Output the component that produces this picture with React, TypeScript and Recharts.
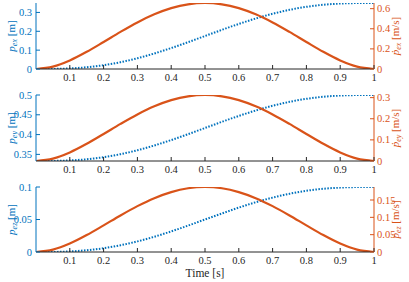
import React from 'react';
import { LineChart, Line, XAxis, YAxis } from 'recharts';

const TIME = [0, 0.05, 0.1, 0.15, 0.2, 0.25, 0.3, 0.35, 0.4, 0.45, 0.5, 0.55, 0.6, 0.65, 0.7, 0.75, 0.8, 0.85, 0.9, 0.95, 1];
const X_TICKS = [0.1, 0.2, 0.3, 0.4, 0.5, 0.6, 0.7, 0.8, 0.9, 1];

const PX = [0, 0.0004, 0.003, 0.0093, 0.0203, 0.0362, 0.0571, 0.0823, 0.1111, 0.1424, 0.175, 0.2076, 0.2389, 0.2677, 0.2929, 0.3138, 0.3297, 0.3407, 0.347, 0.3496, 0.35];
const VX = [0, 0.0237, 0.0851, 0.1707, 0.2688, 0.3691, 0.4631, 0.5434, 0.6048, 0.6432, 0.6563, 0.6432, 0.6048, 0.5434, 0.4631, 0.3691, 0.2688, 0.1707, 0.0851, 0.0237, 0];
const PY = [0.3333, 0.3335, 0.3347, 0.3377, 0.343, 0.3506, 0.3605, 0.3725, 0.3862, 0.4011, 0.4167, 0.4322, 0.4471, 0.4608, 0.4728, 0.4827, 0.4903, 0.4956, 0.4986, 0.4998, 0.5];
const VY = [0, 0.0113, 0.0405, 0.0813, 0.128, 0.1758, 0.2205, 0.2588, 0.288, 0.3063, 0.3125, 0.3063, 0.288, 0.2588, 0.2205, 0.1758, 0.128, 0.0813, 0.0405, 0.0113, 0];
const PZ = [0, 0.0001, 0.0009, 0.0027, 0.0058, 0.0104, 0.0163, 0.0235, 0.0317, 0.0407, 0.05, 0.0593, 0.0683, 0.0765, 0.0837, 0.0896, 0.0942, 0.0973, 0.0991, 0.0999, 0.1];
const VZ = [0, 0.0068, 0.0243, 0.0488, 0.0768, 0.1055, 0.1323, 0.1553, 0.1728, 0.1838, 0.1875, 0.1838, 0.1728, 0.1553, 0.1323, 0.1055, 0.0768, 0.0488, 0.0243, 0.0068, 0];

const PX_DOMAIN = [0, 0.35];
const PX_TICKS = [0, 0.1, 0.2, 0.3];
const VX_DOMAIN = [0, 0.6563];
const VX_TICKS = [0, 0.2, 0.4, 0.6];
const PY_DOMAIN = [0.3333, 0.5];
const PY_TICKS = [0.35, 0.4, 0.45, 0.5];
const VY_DOMAIN = [0, 0.3125];
const VY_TICKS = [0, 0.1, 0.2, 0.3];
const PZ_DOMAIN = [0, 0.1];
const PZ_TICKS = [0, 0.05, 0.1];
const VZ_DOMAIN = [0, 0.1875];
const VZ_TICKS = [0, 0.05, 0.1, 0.15];

const BLUE = '#0072BD';
const ORANGE = '#D95319';
const DARK = '#262626';
const FONT = "'Liberation Serif', 'DejaVu Serif', serif";
const TXT = { fontFamily: FONT };

const build = (p: number[], v: number[]) => TIME.map((t, i) => ({ t, p: p[i], v: v[i] }));

const fmt = (v: number) => String(v);

const BottomTick = (props: any) => {
  const { x, y, payload } = props;
  return (
    <g>
      <line x1={x} y1={y} x2={x} y2={y - 4} stroke={DARK} strokeWidth={1} />
      <text x={x} y={y + 12} textAnchor="middle" fontSize={10.5} fill={DARK} fontFamily={FONT} style={TXT}>
        {fmt(payload.value)}
      </text>
    </g>
  );
};

const TopTick = (props: any) => {
  const { x, y } = props;
  return <line x1={x} y1={y} x2={x} y2={y + 4} stroke={DARK} strokeWidth={1} />;
};

const LeftTick = (props: any) => {
  const { x, y, payload } = props;
  return (
    <g>
      <line x1={x} y1={y} x2={x + 4} y2={y} stroke={BLUE} strokeWidth={1} />
      <text x={x - 4} y={y + 3.5} textAnchor="end" fontSize={10.5} fill={BLUE} fontFamily={FONT} style={TXT}>
        {fmt(payload.value)}
      </text>
    </g>
  );
};

const RightTick = (props: any) => {
  const { x, y, payload } = props;
  return (
    <g>
      <line x1={x} y1={y} x2={x - 4} y2={y} stroke={ORANGE} strokeWidth={1} />
      <text x={x + 3} y={y + 3.5} textAnchor="start" fontSize={10.5} fill={ORANGE} fontFamily={FONT} style={TXT}>
        {fmt(payload.value)}
      </text>
    </g>
  );
};

const YLab = (props: any) => {
  const { viewBox, cx, color, dot, sub, unit } = props;
  const cy = viewBox.y + viewBox.height / 2;
  return (
    <text
      transform={`translate(${cx},${cy}) rotate(-90)`}
      textAnchor="middle"
      fill={color}
      fontSize={11}
      fontFamily={FONT}
      style={TXT}
    >
      <tspan fontStyle="italic">{dot ? '\u1E57' : 'p'}</tspan>
      <tspan fontStyle="italic" fontSize={8} dy={2}>{sub}</tspan>
      <tspan dy={-2}>{` [${unit}]`}</tspan>
    </text>
  );
};

const TimeLabel = (props: any) => {
  const { viewBox } = props;
  return (
    <text x={viewBox.x + viewBox.width / 2} y={viewBox.y + 25} textAnchor="middle" fontSize={11.5} fill={DARK} fontFamily={FONT} style={TXT}>
      Time [s]
    </text>
  );
};

type PanelProps = {
  top: number;
  height: number;
  xHeight: number;
  p: number[];
  v: number[];
  pDomain: number[];
  pTicks: number[];
  vDomain: number[];
  vTicks: number[];
  sub: string;
  vUnit: string;
  showTime?: boolean;
};

const Panel = (pp: PanelProps) => {
  const data = build(pp.p, pp.v);
  return (
    <div style={{ position: 'absolute', left: 0, top: pp.top }}>
      <LineChart width={409} height={pp.height} data={data} margin={{ top: 10, right: 0, bottom: 0, left: 0 }}>
        <XAxis
          xAxisId="b"
          dataKey="t"
          type="number"
          domain={[0, 1]}
          ticks={X_TICKS}
          interval={0}
          allowDataOverflow
          height={pp.xHeight}
          tickSize={0}
          tickMargin={0}
          tickLine={false}
          axisLine={{ stroke: DARK, strokeWidth: 1 }}
          tick={BottomTick}
          label={pp.showTime ? <TimeLabel /> : undefined}
        />
        <XAxis
          xAxisId="t"
          orientation="top"
          dataKey="t"
          type="number"
          domain={[0, 1]}
          ticks={X_TICKS}
          interval={0}
          allowDataOverflow
          height={0}
          tickSize={0}
          tickMargin={0}
          tickLine={false}
          axisLine={{ stroke: DARK, strokeWidth: 1 }}
          tick={TopTick}
        />
        <YAxis
          yAxisId="l"
          type="number"
          domain={pp.pDomain}
          ticks={pp.pTicks}
          interval={0}
          allowDataOverflow
          width={36}
          tickSize={0}
          tickMargin={0}
          tickLine={false}
          axisLine={{ stroke: BLUE, strokeWidth: 1 }}
          tick={LeftTick}
          label={<YLab cx={15} color={BLUE} dot={false} sub={pp.sub} unit="m" />}
        />
        <YAxis
          yAxisId="r"
          orientation="right"
          type="number"
          domain={pp.vDomain}
          ticks={pp.vTicks}
          interval={0}
          allowDataOverflow
          width={35}
          tickSize={0}
          tickMargin={0}
          tickLine={false}
          axisLine={{ stroke: ORANGE, strokeWidth: 1 }}
          tick={RightTick}
          label={<YLab cx={399} color={ORANGE} dot={true} sub={pp.sub} unit={pp.vUnit} />}
        />
        <Line
          xAxisId="b"
          yAxisId="l"
          dataKey="p"
          type="monotone"
          stroke={BLUE}
          strokeWidth={2}
          strokeDasharray="1.5 1.5"
          dot={false}
          isAnimationActive={false}
        />
        <Line
          xAxisId="b"
          yAxisId="r"
          dataKey="v"
          type="monotone"
          stroke={ORANGE}
          strokeWidth={2.2}
          dot={false}
          isAnimationActive={false}
        />
      </LineChart>
    </div>
  );
};

export default function App() {
  return (
    <div style={{ position: 'fixed', left: 0, top: 0, width: 409, height: 282, background: '#fff', fontFamily: FONT }}>
      <Panel top={-7} height={96} xHeight={20} p={PX} v={VX} pDomain={PX_DOMAIN} pTicks={PX_TICKS} vDomain={VX_DOMAIN} vTicks={VX_TICKS} sub="ex" vUnit="m/s" />
      <Panel top={85} height={96} xHeight={20} p={PY} v={VY} pDomain={PY_DOMAIN} pTicks={PY_TICKS} vDomain={VY_DOMAIN} vTicks={VY_TICKS} sub="ey" vUnit="m/s" />
      <Panel top={177} height={105} xHeight={30} p={PZ} v={VZ} pDomain={PZ_DOMAIN} pTicks={PZ_TICKS} vDomain={VZ_DOMAIN} vTicks={VZ_TICKS} sub="ez" vUnit="m/s" showTime />
    </div>
  );
}
